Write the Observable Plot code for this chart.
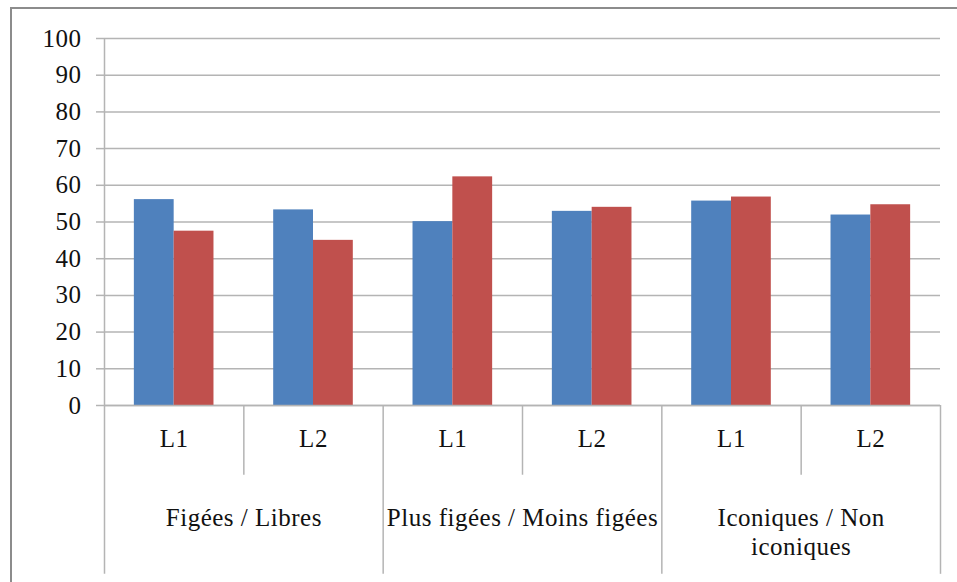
<!DOCTYPE html>
<html><head><meta charset="utf-8">
<script src="https://cdn.jsdelivr.net/npm/d3@7"></script>
<script src="https://cdn.jsdelivr.net/npm/@observablehq/plot@0.6"></script>
<style>
html,body{margin:0;padding:0;background:#fff;}
#wrap{position:relative;width:957px;height:582px;overflow:hidden;}
#border{position:absolute;left:10px;top:7px;right:-5px;bottom:-5px;border-left:2px solid #8c8c8c;border-top:2px solid #8c8c8c;pointer-events:none;}
#wrap svg text{letter-spacing:0.5px;}
</style></head><body><div id="wrap"><div id="border"></div></div>
<script>
// ---- data ----
const groups = ["Figées / Libres", "Plus figées / Moins figées", "Iconiques / Non\niconiques"];
const levels = ["L1", "L2"];
const seriesNames = ["Série 1", "Série 2"];
const series1 = [56.1, 53.3, 50.1, 52.9, 55.7, 51.9];
const series2 = [47.5, 45.0, 62.3, 54.0, 56.8, 54.7];
const yTicks = [0, 10, 20, 30, 40, 50, 60, 70, 80, 90, 100];
const colors = ["#4F81BD", "#C0504D"];

// ---- derived tables ----
const nCat = groups.length * levels.length;
const barW = 1 / 3.5;               // Excel gap width 150%
const gapW = (1 - 2 * barW) / 2;
const bars = [];
[series1, series2].forEach((vals, s) => {
  vals.forEach((v, i) => {
    const x1 = i + gapW + s * barW;
    bars.push({series: seriesNames[s], x1, x2: x1 + barW, value: v});
  });
});
const levelLabels = d3.range(nCat).map(i => ({x: i + 0.5, label: levels[i % levels.length]}));
const groupLabels = groups.map((g, i) => ({x: i * levels.length + levels.length / 2, label: g}));
const seps = d3.range(1, nCat + 1).map(i => ({x: i, y2: i % levels.length === 0 ? -46 : -19}));

const grid = "#b4b4b4";
const font = "Liberation Serif";
const fs = 25;
const chart = Plot.plot({
  width: 957, height: 582,
  marginLeft: 104, marginRight: 17, marginTop: 38, marginBottom: 177,
  style: {fontFamily: "'Liberation Serif', 'Times New Roman', serif", fontSize: fs + "px", color: "#111", background: "transparent"},
  x: {type: "linear", domain: [0, nCat], axis: null},
  y: {domain: [0, 100], axis: null},
  color: {domain: seriesNames, range: colors},
  marks: [
    Plot.gridY(yTicks, {stroke: grid, strokeOpacity: 1, strokeWidth: 1.5}),
    Plot.axisY(yTicks, {tickSize: 8, tickPadding: 15, stroke: grid, strokeWidth: 1.5, label: null, fontSize: fs, fontFamily: font}),
    Plot.rectY(bars, {x1: "x1", x2: "x2", y: "value", fill: "series"}),
    Plot.ruleX([0], {y1: -46, y2: 100, stroke: grid, strokeWidth: 1.5}),
    Plot.ruleY([0], {stroke: grid, strokeWidth: 1.5}),
    Plot.ruleX(seps, {x: "x", y1: 0, y2: "y2", stroke: grid, strokeWidth: 1.5}),
    Plot.text(levelLabels, {x: "x", text: "label", frameAnchor: "bottom", dy: 41, fontSize: fs, fontFamily: font}),
    Plot.text(groupLabels, {x: "x", text: "label", frameAnchor: "bottom", lineAnchor: "top", dy: 100, lineHeight: 1.16, fontSize: fs, fontFamily: font})
  ]
});
chart.style.position = "absolute";
chart.style.left = "0px";
chart.style.top = "0px";
document.getElementById("wrap").prepend(chart);
</script>
</body></html>
